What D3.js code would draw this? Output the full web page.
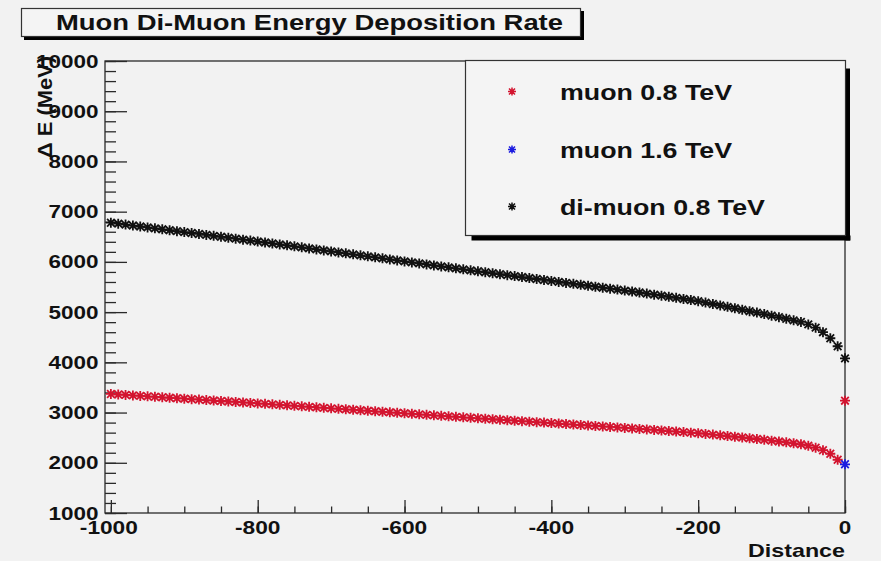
<!DOCTYPE html>
<html>
<head>
<meta charset="utf-8">
<script src="https://cdn.jsdelivr.net/npm/d3@7"></script>
<style>
  html, body { margin: 0; padding: 0; background: #f2f2f2; }
  svg { display: block; font-family: "Liberation Sans", Arial, sans-serif; font-weight: bold; }
</style>
</head>
<body>
<svg id="chart" width="881" height="561"></svg>
<script>
// ---------------- DATA ----------------
const chartTitle = "Muon Di-Muon Energy Deposition Rate";
const xTitle = "Distance";
const yTitle = "\u0394 E (MeV)";
const xTicks = [-1000, -800, -600, -400, -200, 0];
const yTicks = [1000, 2000, 3000, 4000, 5000, 6000, 7000, 8000, 9000, 10000];

const distance = [
  -1000,-990,-980,-970,-960,-950,-940,-930,-920,-910,
  -900,-890,-880,-870,-860,-850,-840,-830,-820,-810,
  -800,-790,-780,-770,-760,-750,-740,-730,-720,-710,
  -700,-690,-680,-670,-660,-650,-640,-630,-620,-610,
  -600,-590,-580,-570,-560,-550,-540,-530,-520,-510,
  -500,-490,-480,-470,-460,-450,-440,-430,-420,-410,
  -400,-390,-380,-370,-360,-350,-340,-330,-320,-310,
  -300,-290,-280,-270,-260,-250,-240,-230,-220,-210,
  -200,-190,-180,-170,-160,-150,-140,-130,-120,-110,
  -100,-90,-80,-70,-60,-50,-40,-30,-20,-10,
  0
];

const muon08 = [
  3370,3360,3351,3342,3332,3323,3314,3304,3295,3286,
  3276,3267,3258,3248,3239,3230,3220,3211,3201,3192,
  3182,3173,3163,3154,3144,3134,3124,3114,3104,3094,
  3084,3074,3065,3055,3045,3035,3025,3015,3005,2995,
  2985,2975,2965,2955,2945,2935,2925,2915,2905,2896,
  2886,2877,2867,2857,2848,2838,2829,2819,2809,2800,
  2790,2781,2771,2761,2752,2742,2733,2723,2713,2704,
  2694,2685,2675,2664,2654,2643,2632,2622,2611,2600,
  2589,2575,2561,2546,2532,2518,2503,2488,2473,2457,
  2441,2424,2407,2388,2368,2340,2300,2250,2180,2060,
  3236
];

const muon16Distance = [0];
const muon16 = [1970];

const dimuon08 = [
  6780,6761,6742,6724,6705,6687,6668,6649,6631,6612,
  6593,6575,6556,6537,6519,6500,6481,6462,6443,6424,
  6405,6386,6367,6348,6329,6309,6289,6269,6249,6229,
  6209,6189,6170,6150,6130,6110,6090,6070,6050,6030,
  6010,5990,5970,5950,5930,5910,5891,5871,5851,5832,
  5813,5794,5774,5755,5736,5717,5698,5678,5659,5640,
  5621,5602,5582,5563,5544,5525,5506,5486,5467,5448,
  5429,5410,5390,5369,5348,5327,5305,5284,5262,5240,
  5218,5190,5162,5133,5105,5076,5047,5018,4990,4960,
  4930,4899,4868,4836,4805,4755,4690,4600,4480,4320,
  4080
];

const seriesNames = ["muon 0.8 TeV", "muon 1.6 TeV", "di-muon 0.8 TeV"];
const seriesColors = ["#d3142f", "#1c1ce0", "#111111"];

// ---------------- LAYOUT ----------------
const svg = d3.select("#chart");
const frame = { left: 105, right: 845, top: 61, bottom: 513 };
const x = d3.scaleLinear().domain([-1008, 0]).range([frame.left, frame.right]);
const y = d3.scaleLinear().domain([1000, 10000]).range([frame.bottom, frame.top]);

svg.append("rect").attr("width", 881).attr("height", 561).attr("fill", "#f2f2f2");

// frame box
svg.append("rect")
  .attr("x", frame.left).attr("y", frame.top)
  .attr("width", frame.right - frame.left).attr("height", frame.bottom - frame.top)
  .attr("fill", "none").attr("stroke", "#2a2a2a").attr("stroke-width", 1.3);

// axes with ROOT-style inward ticks
const xMajor = d3.axisTop(x).tickValues(xTicks).tickSize(13).tickFormat("");
const xMinor = d3.axisTop(x).tickValues(d3.range(-1000, 1, 50)).tickSize(6.5).tickFormat("");
const yMajor = d3.axisRight(y).tickValues(yTicks).tickSize(22).tickFormat("");
const yMinor = d3.axisRight(y).tickValues(d3.range(1000, 10001, 200)).tickSize(11).tickFormat("");

function styleAxis(g) {
  g.select(".domain").remove();
  g.selectAll("line").attr("stroke", "#2a2a2a").attr("stroke-width", 1.3);
}
svg.append("g").attr("transform", `translate(0,${frame.bottom})`).call(xMinor).call(styleAxis);
svg.append("g").attr("transform", `translate(0,${frame.bottom})`).call(xMajor).call(styleAxis);
svg.append("g").attr("transform", `translate(${frame.left},0)`).call(yMinor).call(styleAxis);
svg.append("g").attr("transform", `translate(${frame.left},0)`).call(yMajor).call(styleAxis);

// tick labels
function labelWidth(s) {
  let w = 0;
  for (const c of s) w += (c === "-") ? 8 : 12.5;
  return w;
}
svg.append("g").selectAll("text").data(yTicks).join("text")
  .attr("x", frame.left - 6.5).attr("y", d => y(d) + 6.5)
  .attr("text-anchor", "end").attr("font-size", 18.5).attr("fill", "#111")
  .attr("textLength", d => labelWidth(String(d))).attr("lengthAdjust", "spacingAndGlyphs")
  .text(d => d);

svg.append("g").selectAll("text").data(xTicks).join("text")
  .attr("x", d => x(d) - (d === -1000 ? 2 : 0)).attr("y", 533.5)
  .attr("text-anchor", "middle").attr("font-size", 18.5).attr("fill", "#111")
  .attr("textLength", d => labelWidth(String(d))).attr("lengthAdjust", "spacingAndGlyphs")
  .text(d => d);

// axis titles
svg.append("text")
  .attr("x", 845).attr("y", 556.5).attr("text-anchor", "end")
  .attr("font-size", 19).attr("fill", "#111")
  .attr("textLength", 97).attr("lengthAdjust", "spacingAndGlyphs")
  .text(xTitle);

svg.append("text")
  .attr("transform", "translate(52,56) rotate(-90)")
  .attr("text-anchor", "end").attr("font-size", 20).attr("fill", "#111")
  .attr("textLength", 102).attr("lengthAdjust", "spacingAndGlyphs")
  .text(yTitle);

// markers (ROOT asterisk style)
const starBig = "M-5,0L5,0M0,-5L0,5M-3.8,-3.8L3.8,3.8M-3.8,3.8L3.8,-3.8";
const starLegend = "M-4,0L4,0M0,-4L0,4M-3,-3L3,3M-3,3L3,-3";
function drawSeries(xs, ys, color) {
  svg.append("g").selectAll("path").data(ys).join("path")
    .attr("transform", (d, i) => `translate(${x(xs[i])},${y(d)})`)
    .attr("d", starBig).attr("fill", "none")
    .attr("stroke", color).attr("stroke-width", 1.8);
}
drawSeries(distance, muon08, seriesColors[0]);
drawSeries(muon16Distance, muon16, seriesColors[1]);
drawSeries(distance, dimuon08, seriesColors[2]);

// title box
svg.append("rect").attr("x", 24).attr("y", 36.5).attr("width", 560).attr("height", 3.5).attr("fill", "#000");
svg.append("rect").attr("x", 580.5).attr("y", 11).attr("width", 3.5).attr("height", 29).attr("fill", "#000");
svg.append("rect").attr("x", 21.5).attr("y", 8.5).attr("width", 559).attr("height", 28)
  .attr("fill", "#f4f4f4").attr("stroke", "#333").attr("stroke-width", 1.2);
svg.append("text").attr("x", 56).attr("y", 29.5)
  .attr("font-size", 22).attr("fill", "#111")
  .attr("textLength", 507).attr("lengthAdjust", "spacingAndGlyphs")
  .text(chartTitle);

// legend
const lg = { x: 465.5, y: 60.5, w: 380, h: 175 };
svg.append("rect").attr("x", lg.x + 6).attr("y", lg.y + lg.h).attr("width", lg.w - 1).attr("height", 5).attr("fill", "#000");
svg.append("rect").attr("x", lg.x + lg.w).attr("y", lg.y + 8).attr("width", 4.5).attr("height", lg.h - 3).attr("fill", "#000");
svg.append("rect").attr("x", lg.x).attr("y", lg.y).attr("width", lg.w).attr("height", lg.h)
  .attr("fill", "#f4f4f4").attr("stroke", "#333").attr("stroke-width", 1.2);

const legendRows = [91.5, 149.5, 206.5];
const legendWidths = [172, 172, 205];
seriesNames.forEach((name, i) => {
  svg.append("path").attr("transform", `translate(512,${legendRows[i]})`)
    .attr("d", starLegend).attr("fill", "none").attr("stroke", seriesColors[i]).attr("stroke-width", 1.5);
  svg.append("text").attr("x", 560).attr("y", legendRows[i] + 8.5)
    .attr("font-size", 22).attr("fill", "#111")
    .attr("textLength", legendWidths[i]).attr("lengthAdjust", "spacingAndGlyphs")
    .text(name);
});
</script>
</body>
</html>
